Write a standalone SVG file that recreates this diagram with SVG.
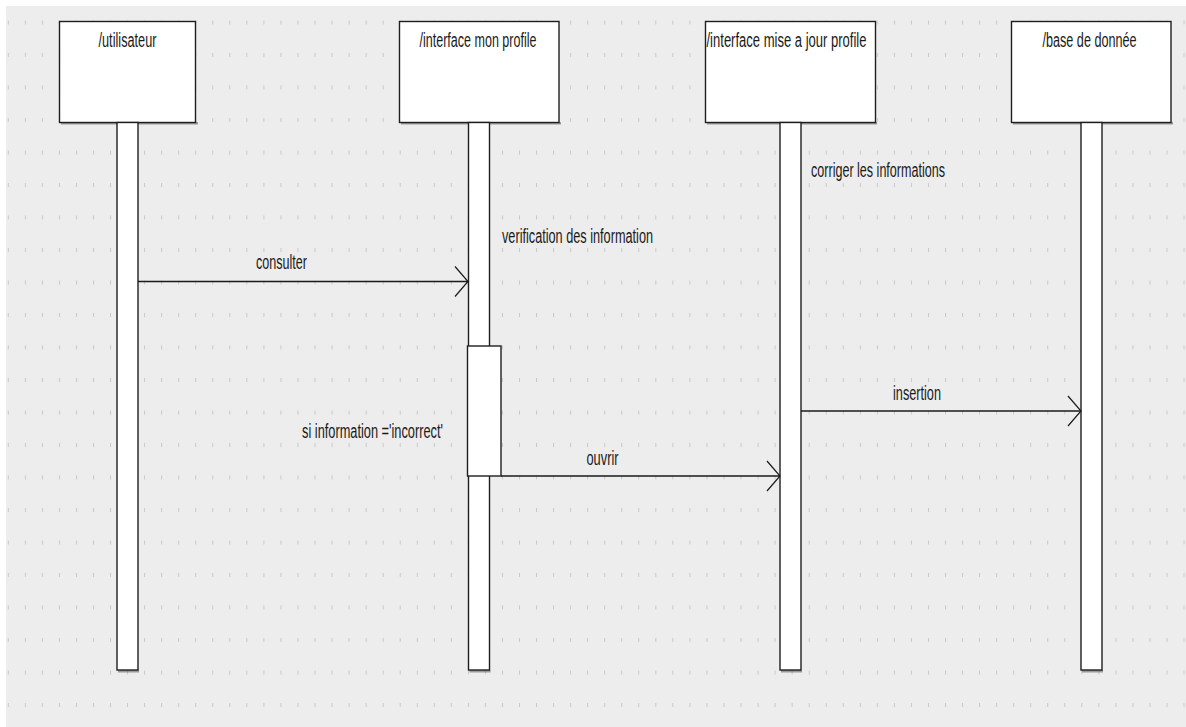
<svg xmlns="http://www.w3.org/2000/svg" width="1186" height="727" viewBox="0 0 1186 727">
  <style>
    .head { fill: #ffffff; stroke: #1e1e1e; stroke-width: 1.4; }
    .bar { fill: #ffffff; stroke: #1e1e1e; stroke-width: 1.4; }
    .shadow { fill: #555555; opacity: 0.55; }
    .lbl { font-family: "Liberation Sans", Arial, sans-serif; font-size: 20px; fill: #1a1a1a; }
    .msg { stroke: #1a1a1a; stroke-width: 1.4; fill: none; }
    .tip { stroke: #1a1a1a; stroke-width: 1.2; fill: none; }
  </style>
  <defs>
    <pattern id="grid" patternUnits="userSpaceOnUse" x="7.8" y="20.5" width="17.04" height="32.5">
      <rect x="0" y="0" width="1" height="4" fill="#c8c8c8"/>
    </pattern>
    <marker id="open" markerWidth="16" markerHeight="32" refX="14" refY="16" orient="auto" markerUnits="userSpaceOnUse">
      <path class="tip" d="M1,1 L14,16 L1,31"/>
    </marker>
  </defs>

  <!-- canvas -->
  <rect x="0" y="0" width="1186" height="727" fill="#ffffff"/>
  <rect x="6" y="6" width="1180" height="721" fill="#ededed"/>
  <rect x="6" y="6" width="1180" height="721" fill="url(#grid)"/>

  <!-- lifeline 1 -->
  <g id="utilisateur">
    <rect class="shadow" x="61" y="122" width="137" height="2.5"/>
    <rect class="head" x="59.5" y="21.5" width="136" height="101"/>
    <text class="lbl" x="127.5" y="47" text-anchor="middle" textLength="58" lengthAdjust="spacingAndGlyphs">/utilisateur</text>
    <rect class="shadow" x="118" y="670" width="21" height="2.5"/>
    <rect class="bar" x="117" y="122.5" width="21" height="547.5"/>
  </g>

  <!-- lifeline 2 -->
  <g id="interface-mon-profile">
    <rect class="shadow" x="401" y="122" width="160" height="2.5"/>
    <rect class="head" x="399.5" y="21.5" width="159.5" height="101"/>
    <text class="lbl" x="478" y="47" text-anchor="middle" textLength="117" lengthAdjust="spacingAndGlyphs">/interface mon profile</text>
    <rect class="shadow" x="469.5" y="670" width="21" height="2.5"/>
    <rect class="bar" x="468.5" y="122.5" width="21" height="547.5"/>
    <rect class="bar" x="467.5" y="346" width="33.5" height="130"/>
  </g>

  <!-- lifeline 3 -->
  <g id="interface-mise-a-jour-profile">
    <rect class="shadow" x="707" y="122" width="170" height="2.5"/>
    <rect class="head" x="705.5" y="21.5" width="170" height="101"/>
    <text class="lbl" x="786.5" y="47" text-anchor="middle" textLength="160" lengthAdjust="spacingAndGlyphs">/interface mise a jour profile</text>
    <rect class="shadow" x="781" y="670" width="21" height="2.5"/>
    <rect class="bar" x="780" y="122.5" width="21" height="547.5"/>
  </g>

  <!-- lifeline 4 -->
  <g id="base-de-donnee">
    <rect class="shadow" x="1013" y="122" width="160" height="2.5"/>
    <rect class="head" x="1011.5" y="21.5" width="159.5" height="101"/>
    <text class="lbl" x="1089.5" y="47" text-anchor="middle" textLength="94" lengthAdjust="spacingAndGlyphs">/base de donnée</text>
    <rect class="shadow" x="1082" y="670" width="21" height="2.5"/>
    <rect class="bar" x="1081" y="122.5" width="21" height="547.5"/>
  </g>

  <!-- notes -->
  <text class="lbl" x="502" y="243" textLength="151" lengthAdjust="spacingAndGlyphs">verification des information</text>
  <text class="lbl" x="811" y="176.5" textLength="134" lengthAdjust="spacingAndGlyphs">corriger les informations</text>
  <text class="lbl" x="302" y="438" textLength="141" lengthAdjust="spacingAndGlyphs">si information ='incorrect'</text>

  <!-- messages -->
  <g id="connectors">
    <line class="msg" x1="138" y1="281.5" x2="468" y2="281.5" marker-end="url(#open)"/>
    <text class="lbl" x="281.5" y="269" text-anchor="middle" textLength="51" lengthAdjust="spacingAndGlyphs">consulter</text>
    <line class="msg" x1="501" y1="476" x2="780" y2="476" marker-end="url(#open)"/>
    <text class="lbl" x="602.5" y="465" text-anchor="middle" textLength="32" lengthAdjust="spacingAndGlyphs">ouvrir</text>
    <line class="msg" x1="801" y1="411" x2="1081" y2="411" marker-end="url(#open)"/>
    <text class="lbl" x="917" y="400" text-anchor="middle" textLength="48" lengthAdjust="spacingAndGlyphs">insertion</text>
  </g>
</svg>
